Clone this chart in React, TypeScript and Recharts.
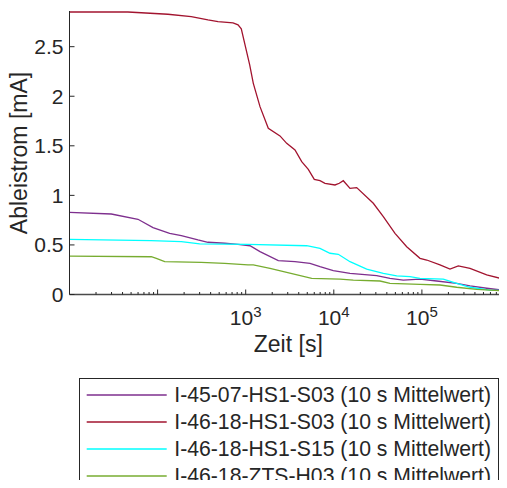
import React from 'react';
import { LineChart, Line, XAxis, YAxis, Legend } from 'recharts';

const FONT = '"Liberation Sans", Arial, Helvetica, sans-serif';
const INK = '#262626';

const seriesNames = [
  'I-45-07-HS1-S03 (10 s Mittelwert)',
  'I-46-18-HS1-S03 (10 s Mittelwert)',
  'I-46-18-HS1-S15 (10 s Mittelwert)',
  'I-46-18-ZTS-H03 (10 s Mittelwert)',
];
const seriesColors = ['#7E2F8E', '#A2142F', '#00FFFF', '#77AC30'];

// I-45-07-HS1-S03
const purpleTime = [10, 29.8, 59.9, 88.7, 137, 186, 287, 373, 578, 818, 1119, 1453, 2344, 3627, 5370, 6972, 9870, 15280, 30690, 43450, 61500, 95150, 147200, 248300, 351600, 543800, 924700];
const purpleValue = [0.829, 0.812, 0.759, 0.674, 0.617, 0.593, 0.55, 0.527, 0.517, 0.506, 0.492, 0.432, 0.341, 0.331, 0.315, 0.281, 0.24, 0.214, 0.19, 0.163, 0.146, 0.156, 0.136, 0.113, 0.086, 0.063, 0.038];

// I-46-18-HS1-S03
const redTime = [10, 46, 131, 241, 373, 485, 718, 818, 891, 1110, 1220, 1453, 1805, 2450, 2920, 3627, 4322, 5135, 6005, 6972, 7946, 10320, 11550, 12820, 15280, 18190, 28080, 36480, 49510, 67220, 95150, 113400, 160500, 208400, 259000, 351600, 543800, 924700];
const redValue = [2.85, 2.85, 2.827, 2.803, 2.77, 2.753, 2.74, 2.72, 2.68, 2.316, 2.13, 1.895, 1.677, 1.6, 1.525, 1.458, 1.34, 1.263, 1.162, 1.148, 1.122, 1.105, 1.122, 1.148, 1.07, 1.078, 0.92, 0.785, 0.617, 0.482, 0.365, 0.348, 0.298, 0.257, 0.288, 0.264, 0.197, 0.146];

// I-46-18-HS1-S15
const cyanTime = [10, 84.2, 186, 300.6, 1062, 4925, 6972, 9055, 11250, 15280, 23630, 36480, 51760, 73280, 95150, 175000, 248300, 351600, 593000, 924700];
const cyanValue = [0.557, 0.543, 0.533, 0.51, 0.506, 0.492, 0.466, 0.416, 0.406, 0.331, 0.257, 0.214, 0.187, 0.18, 0.163, 0.156, 0.113, 0.073, 0.045, 0.038];

// I-46-18-ZTS-H03
const greenTime = [10, 84.8, 96.7, 120.4, 313, 578, 1062, 1220, 1887, 2920, 5614, 11760, 16650, 33450, 43450, 95150, 160500, 248300, 418800, 924700];
const greenValue = [0.388, 0.381, 0.365, 0.331, 0.325, 0.315, 0.298, 0.298, 0.264, 0.224, 0.163, 0.156, 0.146, 0.136, 0.113, 0.103, 0.096, 0.073, 0.052, 0.035];

const yTicks = [0, 0.5, 1, 1.5, 2, 2.5];
const yTickLabels = ['0', '0.5', '1', '1.5', '2', '2.5'];
const xMajorTicks = [100, 1000, 10000, 100000];
const xLabelledTicks = [1000, 10000, 100000];
const xLabelExponents = ['3', '4', '5'];
const xMinorTicks = [
  20, 30, 40, 50, 60, 70, 80, 90,
  200, 300, 400, 500, 600, 700, 800, 900,
  2000, 3000, 4000, 5000, 6000, 7000, 8000, 9000,
  20000, 30000, 40000, 50000, 60000, 70000, 80000, 90000,
  200000, 300000, 400000, 500000, 600000, 700000, 800000, 900000,
];
const xAllTicks = [...xMinorTicks, ...xMajorTicks].sort((a, b) => a - b);

const toRows = (ts: number[], vs: number[]) => ts.map((t, i) => ({ t, v: vs[i] }));
const seriesData = [
  toRows(purpleTime, purpleValue),
  toRows(redTime, redValue),
  toRows(cyanTime, cyanValue),
  toRows(greenTime, greenValue),
];

const XTick = (props: any) => {
  const { x, y, payload } = props;
  const v = payload.value;
  const isMajor = xMajorTicks.includes(v);
  const idx = xLabelledTicks.indexOf(v);
  return (
    <g>
      <line x1={x} x2={x} y1={y} y2={y - (isMajor ? 5 : 2.5)} stroke={INK} strokeWidth={1} />
      {idx >= 0 && (
        <text x={x} y={y + 30.5} textAnchor="middle" fontSize={21} fill={INK} fontFamily={FONT}>
          <tspan>10</tspan>
          <tspan dy={-8.3} fontSize={15}>{xLabelExponents[idx]}</tspan>
        </text>
      )}
    </g>
  );
};

const YTick = (props: any) => {
  const { x, y, payload } = props;
  const idx = yTicks.indexOf(payload.value);
  return (
    <g>
      <line x1={x} x2={x + 5} y1={y} y2={y} stroke={INK} strokeWidth={1} />
      <text x={x - 6} y={y} dy="0.36em" textAnchor="end" fontSize={21} fill={INK} fontFamily={FONT}>
        {idx >= 0 ? yTickLabels[idx] : ''}
      </text>
    </g>
  );
};

const LegendBox = () => {
  const rowY = [17, 44, 71, 98];
  return (
    <svg width={420} height={120} style={{ display: 'block' }}>
      <rect x={0.5} y={0.5} width={419} height={130} fill="#fff" stroke={INK} strokeWidth={1} />
      {seriesNames.map((name, i) => (
        <g key={name}>
          <line x1={7.7} x2={87.7} y1={rowY[i]} y2={rowY[i]} stroke={seriesColors[i]} strokeWidth={1.3} />
          <text x={95.3} y={rowY[i] + 7} fontSize={21.2} fill={INK} fontFamily={FONT}>{name}</text>
        </g>
      ))}
    </svg>
  );
};

export default function App() {
  return (
    <div style={{ width: 507, height: 480, overflow: 'hidden', marginLeft: -8, marginBottom: -8, fontFamily: FONT }}>
      <LineChart width={507} height={480} margin={{ top: 3, right: 0, left: 0, bottom: 133.5 }}>
        <XAxis
          type="number"
          dataKey="t"
          scale="log"
          domain={[10, 924700]}
          allowDataOverflow
          ticks={xAllTicks}
          interval={0}
          tick={<XTick />}
          tickLine={false}
          tickSize={0}
          tickMargin={0}
          height={60}
          axisLine={{ stroke: '#4a4a4a', strokeWidth: 1.6 }}
          label={() => (
            <text x={288.3} y={344} textAnchor="middle" fontSize={23} fill={INK} fontFamily={FONT}>Zeit [s]</text>
          )}
        />
        <YAxis
          type="number"
          dataKey="v"
          domain={[0, 2.86]}
          allowDataOverflow
          ticks={yTicks}
          interval={0}
          tick={<YTick />}
          tickLine={false}
          tickSize={0}
          tickMargin={0}
          width={69.5}
          axisLine={{ stroke: INK, strokeWidth: 1 }}
          label={() => (
            <g transform="translate(27 145) rotate(-90)">
              <text x={0} y={0} textAnchor="middle" fontSize={23} fill={INK} fontFamily={FONT}>Ableistrom [mA]</text>
            </g>
          )}
        />
        <Legend
          layout="vertical"
          align="center"
          verticalAlign="middle"
          content={() => <LegendBox />}
          wrapperStyle={{ position: 'absolute', left: 79, top: 370, width: 420, height: 120, bottom: 'auto', right: 'auto' }}
        />
        {seriesData.map((d, i) => (
          <Line
            key={seriesNames[i]}
            data={d}
            dataKey="v"
            name={seriesNames[i]}
            type="linear"
            stroke={seriesColors[i]}
            strokeWidth={1.3}
            dot={false}
            activeDot={false}
            isAnimationActive={false}
          />
        ))}
      </LineChart>
    </div>
  );
}
